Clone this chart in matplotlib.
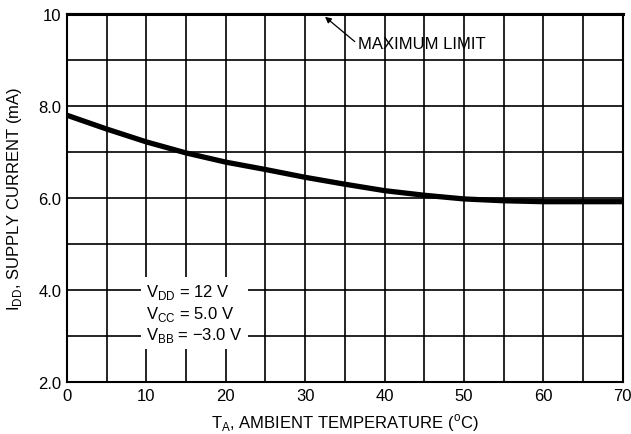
import matplotlib
matplotlib.use("Agg")
import matplotlib.pyplot as plt
from matplotlib import font_manager

names = {f.name for f in font_manager.fontManager.ttflist}
fam = "Liberation Sans Narrow" if "Liberation Sans Narrow" in names else "Liberation Sans"
plt.rcParams['font.family'] = [fam, 'DejaVu Sans']
plt.rcParams['mathtext.fontset'] = 'custom'
plt.rcParams['mathtext.rm'] = fam

temp = [0, 5, 10, 15, 20, 25, 30, 35, 40, 45, 50, 55, 60, 65, 70]
idd = [7.80, 7.50, 7.22, 6.98, 6.78, 6.62, 6.45, 6.30, 6.16, 6.06, 5.98, 5.94, 5.92, 5.92, 5.92]
max_limit = 10.0
x_ticks = [0, 10, 20, 30, 40, 50, 60, 70]
y_ticks = [2, 4, 6, 8, 10]
y_tick_labels = ["2.0", "4.0", "6.0", "8.0", "10"]

fig = plt.figure(figsize=(6.31, 4.35), dpi=100)
ax = fig.add_axes([0.106, 0.1195, 0.881, 0.846])
ax.set_xlim(0, 70)
ax.set_ylim(2, 10)

for xv in range(5, 70, 5):
    ax.axvline(xv, color='black', lw=1.2, zorder=1)
for yv in range(3, 10):
    ax.axhline(yv, color='black', lw=1.2, zorder=1)
ax.axhline(max_limit, color='black', lw=2.2, zorder=3, clip_on=False)

ax.plot(temp, idd, color='black', lw=3.8, solid_capstyle='butt', zorder=4)

for s in ax.spines.values():
    s.set_linewidth(1.5)

ax.set_xticks(x_ticks)
ax.set_yticks(y_ticks)
ax.set_yticklabels(y_tick_labels)
ax.tick_params(length=0, labelsize=12, pad=4)

ax.set_xlabel(r"T$_{\mathregular{A}}$, AMBIENT TEMPERATURE ($^{\mathregular{o}}$C)", fontsize=12, labelpad=6)
ax.set_ylabel(r"I$_{\mathregular{DD}}$, SUPPLY CURRENT (mA)", fontsize=12, labelpad=10)

ax.annotate("MAXIMUM LIMIT", xy=(32.5, 9.94), xytext=(36.6, 9.35),
            fontsize=12, va='center', ha='left',
            arrowprops=dict(arrowstyle='-|>', color='black', lw=0.9, mutation_scale=9,
                            shrinkA=0, shrinkB=0, relpos=(0, 0.5)), zorder=5)

ax.text(10.0, 3.5,
        "V$_{\\mathregular{DD}}$ = 12 V\nV$_{\\mathregular{CC}}$ = 5.0 V\nV$_{\\mathregular{BB}}$ = \u22123.0 V",
        fontsize=12, va='center', ha='left', linespacing=1.15,
        bbox=dict(facecolor='white', edgecolor='none', pad=4), zorder=5)

fig.savefig("out.png", dpi=100)
